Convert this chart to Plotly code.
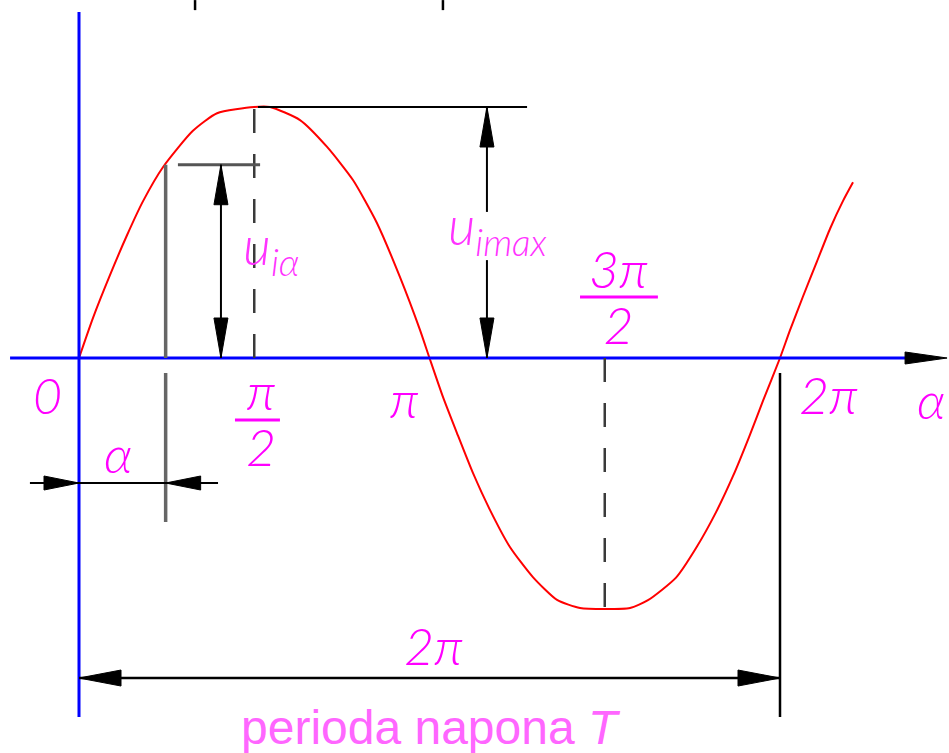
import plotly.graph_objects as go

# ---- data -----------------------------------------------------------------
# angle in degrees (2*pi = 360) and instantaneous voltage relative to u_imax
alpha_deg = [0, 7.2, 15.9, 24.7, 32.9, 43.1, 58.5, 70.9, 90, 98.1,
             113.5, 127.4, 140.7, 153.0, 164.8, 175.1, 180, 186.9, 194.1, 202.3,
             211.1, 221.3, 233.1, 245.5, 257.3, 270, 283.0, 292.2, 306.6, 316.9,
             327.1, 335.9, 344.1, 351.3, 360, 365.1, 371.8, 379.0, 385.7, 392.3,
             397.5]
u_values = [0, 0.16, 0.33, 0.49, 0.625, 0.76, 0.905, 0.975, 1.0, 1.0,
            0.948, 0.841, 0.709, 0.538, 0.323, 0.112, 0, -0.155, -0.299, -0.458,
            -0.606, -0.753, -0.873, -0.964, -0.996, -1.0, -0.996, -0.965, -0.875, -0.757,
            -0.615, -0.47, -0.315, -0.17, 0, 0.11, 0.245, 0.385, 0.515, 0.625,
            0.70]

tick_positions = [0, 90, 180, 270, 360]          # 0, pi/2, pi, 3pi/2, 2pi
alpha_mark = 44.5                                # the marked angle alpha
u_alpha = 0.77                                   # u_i(alpha)
u_max = 1.0
period = 360

# ---- geometry helpers (pixel lengths -> data units) -----------------------
W, H = 949, 753
X_RANGE = [-40.57, 446.79]
Y_RANGE = [-1.5737, 1.4263]
PX_X = (X_RANGE[1] - X_RANGE[0]) / W
PX_Y = (Y_RANGE[1] - Y_RANGE[0]) / H

MAG = "#ff00ff"
MAG_U = "#ff33ff"
BLUE = "#0000ff"

shapes = []
annotations = []


def line(x0, y0, x1, y1, color="black", width=2, dash=None):
    d = dict(color=color, width=width)
    if dash:
        d["dash"] = dash
    shapes.append(dict(type="line", xref="x", yref="y", x0=x0, y0=y0,
                       x1=x1, y1=y1, line=d, layer="above"))


def head(tx, ty, dx, dy, length=40, half=7, color="black"):
    # dx, dy: direction of the arrow in screen terms (dy>0 = up)
    px, py = -dy, dx
    bx, by = tx - dx * length * PX_X, ty - dy * length * PX_Y
    p1 = (bx + px * half * PX_X, by + py * half * PX_Y)
    p2 = (bx - px * half * PX_X, by - py * half * PX_Y)
    path = f"M{tx},{ty} L{p1[0]},{p1[1]} L{p2[0]},{p2[1]} Z"
    shapes.append(dict(type="path", xref="x", yref="y", path=path,
                       fillcolor=color, line=dict(color=color, width=1),
                       layer="above"))


def text(x, y, s, size=52, color=MAG, family="Lato", weight=300, style="italic"):
    annotations.append(dict(x=x, y=y, xref="x", yref="y", text=s,
                            showarrow=False, xanchor="center", yanchor="middle",
                            font=dict(size=size, color=color, family=family,
                                      weight=weight, style=style)))


def frac(x, y, top, bottom, glyph=52, spacing=43):
    # stacked fraction: line spacing set by the outer size, glyphs by the span size
    s = (f"<span style='font-size:{glyph}px'>{top}</span><br>"
         f"<span style='font-size:{glyph}px'>{bottom}</span>")
    text(x, y, s, size=spacing)


# stray ticks at the top edge
line(59.6, 1.426, 59.6, 1.386, width=2.5)
line(186.9, 1.426, 186.9, 1.386, width=2.5)

# axes
line(0, 1.378, 0, -1.430, color=BLUE, width=3)
line(-35.4, 0, 426.8, 0, color=BLUE, width=3)
head(445.8, 0, 1, 0, length=42, half=6)

# dashed guide lines at pi/2 and 3pi/2
line(tick_positions[1], 0, tick_positions[1], u_max, color="#3a3a3a", width=2.5, dash="24px,21px")
line(tick_positions[3], 0, tick_positions[3], -u_max, color="#3a3a3a", width=2.5, dash="24px,21px")

# u_imax dimension
x_umax = 209.5
line(91.9, u_max, 230.1, u_max, width=2)
line(x_umax, 0, x_umax, 0.39, width=2)
line(x_umax, 0.582, x_umax, u_max, width=2)
head(x_umax, u_max, 0, 1, length=40, half=7)
head(x_umax, 0, 0, -1, length=40, half=7)

# u_i(alpha) dimension
x_ua = 72.9
line(50.8, u_alpha, 93.0, u_alpha, color="#555555", width=3)
line(x_ua, 0, x_ua, u_alpha, width=2)
head(x_ua, u_alpha, 0, 1, length=40, half=7)
head(x_ua, 0, 0, -1, length=40, half=7)

# alpha marker line
line(alpha_mark, u_alpha, alpha_mark, 0, color="#666666", width=3.5)
line(alpha_mark, -0.06, alpha_mark, -0.653, color="#666666", width=3.5)

# alpha dimension
y_ad = -0.498
line(-25.2, y_ad, 71.4, y_ad, width=2)
head(0, y_ad, 1, 0, length=35, half=7)
head(alpha_mark, y_ad, -1, 0, length=35, half=7)

# period dimension
y_pd = -1.275
line(0, y_pd, period, y_pd, width=2.5)
line(period, -0.06, period, -1.43, width=2.5)
head(0, y_pd, -1, 0, length=42, half=8)
head(period, y_pd, 1, 0, length=42, half=8)

# fraction bars
line(80.1, -0.247, 103.2, -0.247, color=MAG, width=3)
line(257.3, 0.243, 297.3, 0.243, color=MAG, width=3)

# labels
text(-16.4, -0.147, "0", size=50)
text(167.4, -0.16, "π")
frac(93.5, -0.24, "π", "2")
frac(277.0, 0.248, "3π", "2")
text(384.7, -0.143, "2π")
text(437.5, -0.163, "α")
text(20.0, -0.378, "α")
text(182.3, -1.143, "2π")
text(98.5, 0.44, "u<sub>iα</sub>", size=54, color=MAG_U)
text(214.7, 0.515, "u<sub>imax</sub>", size=53, color=MAG_U)
text(180.8, -1.474, "perioda napona <i>T</i>", size=48, color="#ff66ff",
     family="Liberation Sans, Arial, sans-serif", weight=400, style="normal")

fig = go.Figure()
fig.add_trace(go.Scatter(x=alpha_deg, y=u_values, mode="lines",
                         line=dict(color="#ff0000", width=2, shape="spline", smoothing=0.6),
                         hoverinfo="skip", showlegend=False))

fig.update_layout(
    width=W, height=H, autosize=False,
    margin=dict(l=0, r=0, t=0, b=0),
    paper_bgcolor="white", plot_bgcolor="white",
    xaxis=dict(range=X_RANGE, visible=False, fixedrange=True),
    yaxis=dict(range=Y_RANGE, visible=False, fixedrange=True),
    shapes=shapes, annotations=annotations, showlegend=False,
)

fig.write_html("out.html", config={"displayModeBar": False},
               post_script="document.body.style.margin='0px';document.body.style.overflow='hidden';")
